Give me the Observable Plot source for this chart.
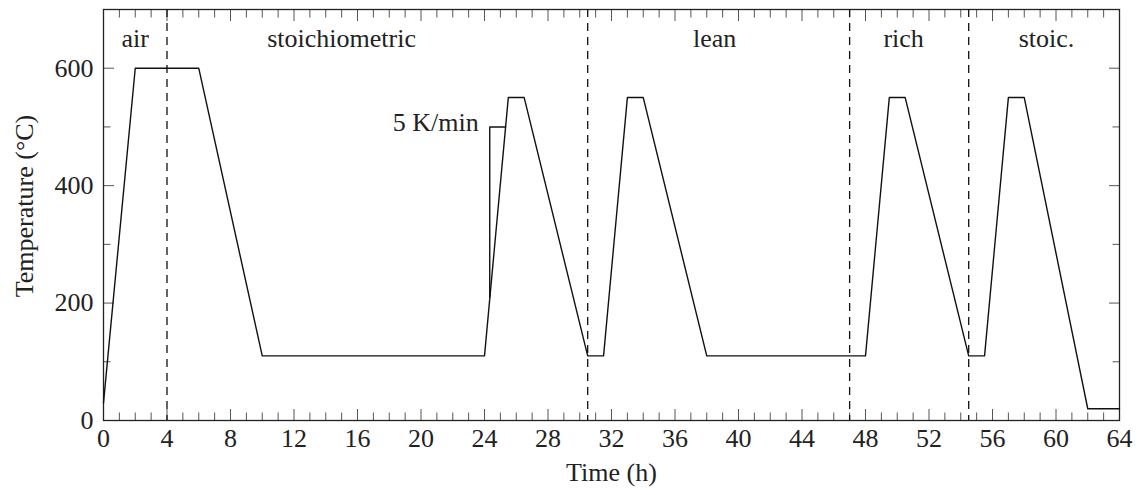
<!DOCTYPE html>
<html>
<head>
<meta charset="utf-8">
<script src="https://cdn.jsdelivr.net/npm/d3@7"></script>
<script src="https://cdn.jsdelivr.net/npm/@observablehq/plot@0.6"></script>
<style>
  html, body { margin: 0; padding: 0; background: #fff; }
  svg text { font-family: "Liberation Serif", "Times New Roman", serif; }
</style>
</head>
<body>
<div id="chart"></div>
<script>
// Temperature profile (time in h, temperature in °C)
const times = [0, 2, 6, 10, 24, 25.5, 26.5, 30.5, 31.5, 33, 34, 38, 48, 49.5, 50.5, 54.5, 55.5, 57, 58, 62, 64];
const temps = [30, 600, 600, 110, 110, 550, 550, 110, 110, 550, 550, 110, 110, 550, 550, 110, 110, 550, 550, 20, 20];

// Heating-rate annotation ("5 K/min")
const rateTimes = [24.33, 24.33, 25.33];
const rateTemps = [210, 500, 500];
const rateLabel = "5 K/min";

// Gas-atmosphere phase boundaries and labels
const phaseBoundaries = [4, 30.5, 47, 54.5];
const phaseNames = ["air", "stoichiometric", "lean", "rich", "stoic."];
const phaseCenters = [2, 15, 38.5, 50.4, 59.4];
const phaseLabelY = 650;

// Ticks
const xMajorTicks = d3.range(0, 65, 4);
const xMinorTicks = d3.range(0, 65, 1).filter(d => d % 4 !== 0);
const yMajorTicks = [0, 200, 400, 600];
const yMinorTicks = [100, 300, 500, 700];

const profile = times.map((t, i) => ({t, T: temps[i]}));
const rate = rateTimes.map((t, i) => ({t, T: rateTemps[i]}));
const phases = phaseNames.map((name, i) => ({name, x: phaseCenters[i]}));

const tickColor = "#555";
const plot = Plot.plot({
  width: 1140,
  height: 495,
  marginLeft: 103,
  marginRight: 21,
  marginTop: 9,
  marginBottom: 75,
  style: {fontFamily: "'Liberation Serif', 'Times New Roman', serif", fontSize: "26px", color: "#222", background: "#fff"},
  x: {domain: [0, 64], label: null},
  y: {domain: [0, 700], label: null},
  marks: [
    // inward ticks on all four sides
    Plot.axisX(xMajorTicks, {anchor: "bottom", tickSize: -11, tickPadding: 19, label: null, stroke: tickColor, fill: "#222"}),
    Plot.axisX(xMinorTicks, {anchor: "bottom", tickSize: -7.5, label: null, stroke: tickColor, fill: "none"}),
    Plot.axisX(xMajorTicks, {anchor: "top", tickSize: -11, label: null, stroke: tickColor, fill: "none"}),
    Plot.axisX(xMinorTicks, {anchor: "top", tickSize: -7.5, label: null, stroke: tickColor, fill: "none"}),
    Plot.axisY(yMajorTicks, {anchor: "left", tickSize: -11, tickPadding: 21, label: null, stroke: tickColor, fill: "#222"}),
    Plot.axisY(yMinorTicks, {anchor: "left", tickSize: -7.5, label: null, stroke: tickColor, fill: "none"}),
    Plot.axisY(yMajorTicks, {anchor: "right", tickSize: -11, label: null, stroke: tickColor, fill: "none"}),
    Plot.axisY(yMinorTicks, {anchor: "right", tickSize: -7.5, label: null, stroke: tickColor, fill: "none"}),
    Plot.frame({stroke: "#222", strokeWidth: 1.3}),
    Plot.ruleX(phaseBoundaries, {stroke: "#111", strokeWidth: 1.3, strokeDasharray: "8,6"}),
    Plot.line(profile, {x: "t", y: "T", stroke: "#111", strokeWidth: 1.4}),
    Plot.line(rate, {x: "t", y: "T", stroke: "#111", strokeWidth: 1.4}),
    Plot.text([rateLabel], {x: rateTimes[1], y: rateTemps[1], text: d => d, textAnchor: "end", dx: -11, dy: -4, fill: "#222"}),
    Plot.text(phases, {x: "x", y: phaseLabelY, text: "name", fill: "#222"}),
    Plot.text(["Time (h)"], {frameAnchor: "bottom", textAnchor: "middle", dy: 60, text: d => d, fill: "#222"}),
    Plot.text(["Temperature (°C)"], {frameAnchor: "left", textAnchor: "middle", dx: -79, dy: -9, rotate: -90, text: d => d, fill: "#222"})
  ]
});
document.getElementById("chart").appendChild(plot);
</script>
</body>
</html>
